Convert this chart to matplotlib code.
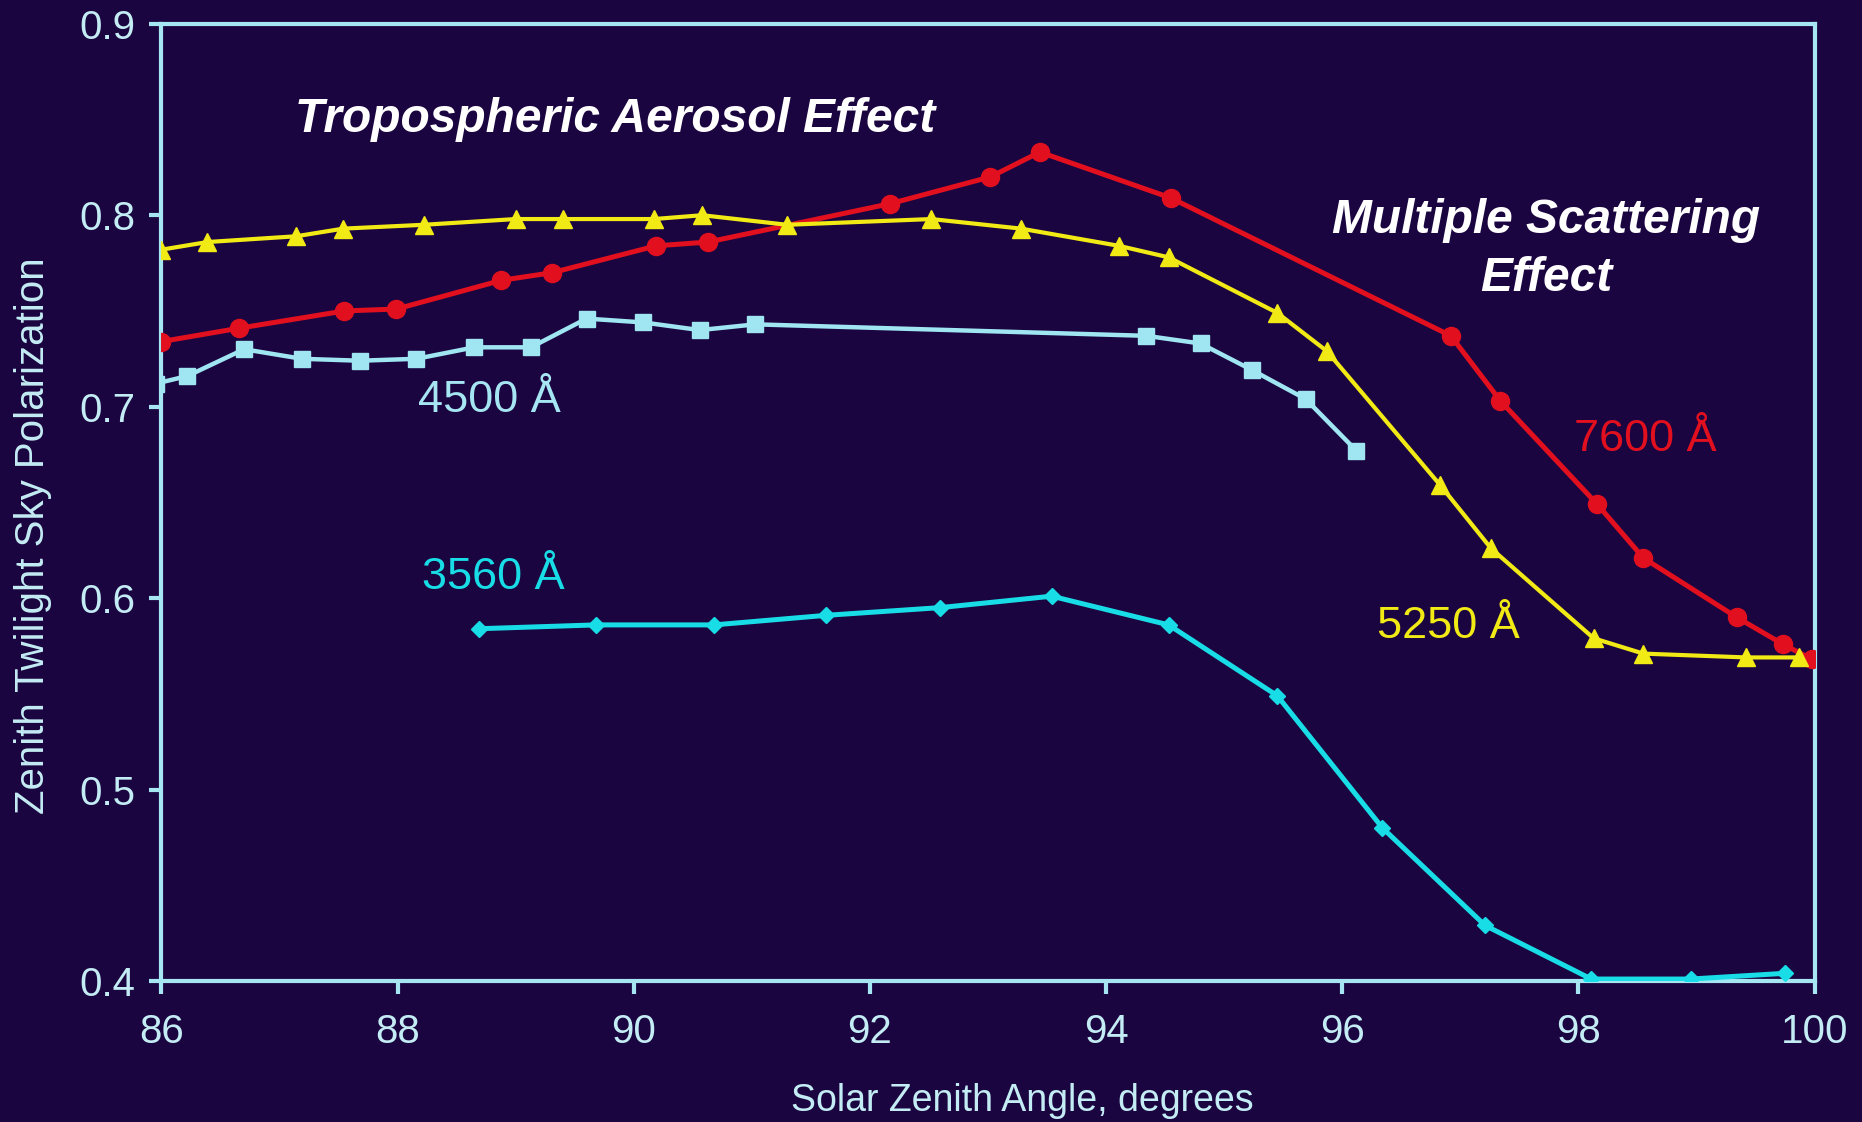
"""Zenith twilight sky polarization vs solar zenith angle, four wavelengths."""

import matplotlib

matplotlib.use("Agg")
import matplotlib.pyplot as plt  # noqa: E402

plt.rcParams["font.family"] = ["Liberation Sans", "DejaVu Sans"]

BG = "#1b0540"
FRAME = "#a6e6f2"
TXT = "#c4ecf4"

# 7600 A (red circles)
sza_7600 = [86.0, 86.66, 87.55, 87.99, 88.88, 89.31, 90.19, 90.63, 92.17, 93.02,
            93.44, 94.55, 96.92, 97.34, 98.16, 98.55, 99.34, 99.73, 99.98]
pol_7600 = [0.734, 0.741, 0.750, 0.751, 0.766, 0.770, 0.784, 0.786, 0.806, 0.820,
            0.833, 0.809, 0.737, 0.703, 0.649, 0.621, 0.590, 0.576, 0.568]

# 5250 A (yellow triangles)
sza_5250 = [86.0, 86.39, 87.14, 87.54, 88.22, 89.0, 89.40, 90.17, 90.58, 91.30, 92.52,
            93.28, 94.11, 94.53, 95.45, 95.87, 96.83, 97.26, 98.13, 98.55, 99.42, 99.87]
pol_5250 = [0.782, 0.786, 0.789, 0.793, 0.795, 0.798, 0.798, 0.798, 0.800, 0.795, 0.798,
            0.793, 0.784, 0.778, 0.749, 0.729, 0.659, 0.626, 0.579, 0.571, 0.569, 0.569]

# 4500 A (pale blue squares)
sza_4500 = [85.95, 86.22, 86.70, 87.19, 87.68, 88.16, 88.65, 89.13, 89.60, 90.08, 90.56,
            91.03, 94.34, 94.80, 95.24, 95.69, 96.12]
pol_4500 = [0.712, 0.716, 0.730, 0.725, 0.724, 0.725, 0.731, 0.731, 0.746, 0.744, 0.740,
            0.743, 0.737, 0.733, 0.719, 0.704, 0.677]

# 3560 A (cyan diamonds)
sza_3560 = [88.69, 89.68, 90.68, 91.63, 92.59, 93.54, 94.53, 95.45, 96.34, 97.21,
            98.11, 98.95, 99.75]
pol_3560 = [0.584, 0.586, 0.586, 0.591, 0.595, 0.601, 0.586, 0.549, 0.480, 0.429,
            0.401, 0.401, 0.404]

x_ticks = [86, 88, 90, 92, 94, 96, 98, 100]
y_ticks = [0.4, 0.5, 0.6, 0.7, 0.8, 0.9]

fig = plt.figure(figsize=(18.62, 11.22), dpi=100, facecolor=BG)
ax = fig.add_axes([0.0867, 0.1257, 0.8878, 0.8531], facecolor=BG)

ax.plot(sza_4500, pol_4500, color="#9fe6f2", lw=3.2, marker="s", ms=12, zorder=3)
ax.plot(sza_3560, pol_3560, color="#18dde6", lw=3.6, marker="D", ms=8, zorder=3)
ax.plot(sza_7600, pol_7600, color="#e2101e", lw=3.6, marker="o", ms=13, zorder=4)
ax.plot(sza_5250, pol_5250, color="#f2ea14", lw=3.0, marker="^", ms=13, zorder=5)

ax.set_xlim(86, 100)
ax.set_ylim(0.4, 0.9)
ax.set_xticks(x_ticks)
ax.set_yticks(y_ticks)
ax.set_xticklabels([str(v) for v in x_ticks])
ax.set_yticklabels([f"{v:.1f}" for v in y_ticks])

for s in ax.spines.values():
    s.set_color(FRAME)
    s.set_linewidth(3)
ax.tick_params(colors=FRAME, labelcolor=TXT, labelsize=29, width=3, length=9,
               direction="out", top=False, right=False)
ax.tick_params(axis="x", pad=14)
ax.tick_params(axis="y", pad=10)

ax.set_xlabel("Solar Zenith Angle, degrees", color=TXT, fontsize=27)
ax.set_ylabel("Zenith Twilight Sky Polarization", color=TXT, fontsize=29)
ax.xaxis.set_label_coords(0.521, -0.107)
ax.yaxis.set_label_coords(-0.066, 0.465)

ax.text(89.84, 0.850, "Tropospheric Aerosol Effect", color="white", fontsize=34.5,
        fontweight="bold", fontstyle="italic", ha="center", va="center")
ax.text(97.73, 0.782, "Multiple Scattering\nEffect", color="white", fontsize=34.5,
        fontweight="bold", fontstyle="italic", ha="center", va="center",
        linespacing=1.38)

ax.text(88.78, 0.703, "4500 Å", color="#a6e6f2", fontsize=32.5, ha="center", va="center")
ax.text(88.81, 0.611, "3560 Å", color="#18dde6", fontsize=32.5, ha="center", va="center")
ax.text(98.57, 0.683, "7600 Å", color="#e2101e", fontsize=32.5, ha="center", va="center")
ax.text(96.90, 0.585, "5250 Å", color="#f2ea14", fontsize=32.5, ha="center", va="center")

fig.savefig("out.png", dpi=100, facecolor=BG)
